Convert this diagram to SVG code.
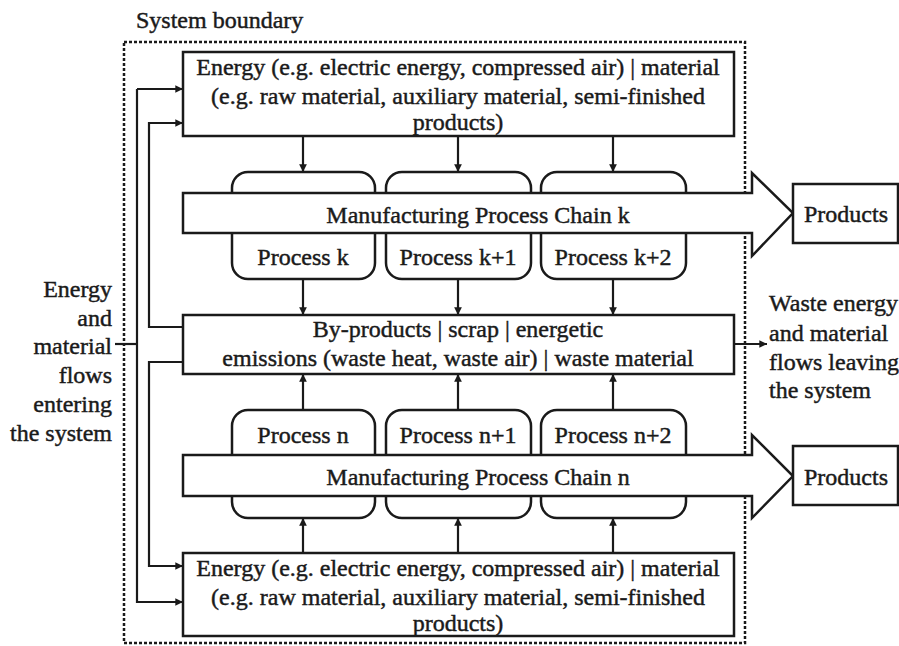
<svg xmlns="http://www.w3.org/2000/svg" width="899" height="646" viewBox="0 0 899 646">
<style>
text{font-family:"Liberation Serif","Times New Roman",serif;font-size:24px;fill:#1a1a1a;stroke:#1a1a1a;stroke-width:0.45}
.c{text-anchor:middle}
.r{text-anchor:end}
.box{fill:#fff;stroke:#1a1a1a;stroke-width:2.5}
.proc{fill:#fff;stroke:#1a1a1a;stroke-width:2.5}
.ln{fill:none;stroke:#1a1a1a;stroke-width:2.2}
.bnd{fill:none;stroke:#1a1a1a;stroke-width:2.5;stroke-dasharray:3 2}
</style>
<defs>
<marker id="ah" viewBox="0 0 10 10" refX="10" refY="5" markerWidth="3.5" markerHeight="3.5" orient="auto" markerUnits="strokeWidth">
<path d="M0,0 L10,5 L0,10 z" fill="#1a1a1a"/>
</marker>
</defs>
<rect fill="#fff" width="899" height="646"/>
<text x="136" y="28">System boundary</text>
<rect class="bnd" x="124" y="42" width="621" height="601"/>

<g id="connectors">
<line class="ln" x1="303" y1="136" x2="303" y2="172" marker-end="url(#ah)"/>
<line class="ln" x1="458" y1="136" x2="458" y2="172" marker-end="url(#ah)"/>
<line class="ln" x1="613" y1="136" x2="613" y2="172" marker-end="url(#ah)"/>
<line class="ln" x1="303" y1="279" x2="303" y2="315" marker-end="url(#ah)"/>
<line class="ln" x1="458" y1="279" x2="458" y2="315" marker-end="url(#ah)"/>
<line class="ln" x1="613" y1="279" x2="613" y2="315" marker-end="url(#ah)"/>
<line class="ln" x1="303" y1="410" x2="303" y2="374" marker-end="url(#ah)"/>
<line class="ln" x1="458" y1="410" x2="458" y2="374" marker-end="url(#ah)"/>
<line class="ln" x1="613" y1="410" x2="613" y2="374" marker-end="url(#ah)"/>
<line class="ln" x1="303" y1="553" x2="303" y2="518" marker-end="url(#ah)"/>
<line class="ln" x1="458" y1="553" x2="458" y2="518" marker-end="url(#ah)"/>
<line class="ln" x1="613" y1="553" x2="613" y2="518" marker-end="url(#ah)"/>
<path class="ln" d="M137,89 H183" marker-end="url(#ah)"/>
<path class="ln" d="M137,89 V602 H183" marker-end="url(#ah)"/>
<path class="ln" d="M115,344 H137"/>
<path class="ln" d="M183,327 H149 V123 H183" marker-end="url(#ah)"/>
<path class="ln" d="M183,362 H149 V566 H183" marker-end="url(#ah)"/>
<path class="ln" d="M733,344 H767" marker-end="url(#ah)"/>
</g>

<g id="energy-top">
<rect class="box" x="183" y="52" width="551" height="84"/>
<text class="c" x="458" y="75">Energy (e.g. electric energy, compressed air) | material</text>
<text class="c" x="458" y="104">(e.g. raw material, auxiliary material, semi-finished</text>
<text class="c" x="458" y="130">products)</text>
</g>

<g id="process-k"><rect class="proc" x="232" y="172" width="143" height="107" rx="16"/><text class="c" x="303" y="265">Process k</text></g>
<g id="process-k1"><rect class="proc" x="386" y="172" width="145" height="107" rx="16"/><text class="c" x="458" y="265">Process k+1</text></g>
<g id="process-k2"><rect class="proc" x="541" y="172" width="145" height="107" rx="16"/><text class="c" x="613" y="265">Process k+2</text></g>

<g id="chain-k">
<path class="box" d="M183,193 H752 V173 L793,213 L752,256 V233 H183 Z"/>
<text class="c" x="478" y="223">Manufacturing Process Chain k</text>
</g>
<g id="products-k">
<rect class="box" x="793" y="184" width="105" height="59"/>
<text class="c" x="846" y="222">Products</text>
</g>

<g id="byproducts">
<rect class="box" x="183" y="315" width="551" height="59"/>
<text class="c" x="458" y="337">By-products | scrap | energetic</text>
<text class="c" x="458" y="366">emissions (waste heat, waste air) | waste material</text>
</g>

<g id="process-n"><rect class="proc" x="232" y="410" width="143" height="108" rx="16"/><text class="c" x="303" y="443">Process n</text></g>
<g id="process-n1"><rect class="proc" x="386" y="410" width="145" height="108" rx="16"/><text class="c" x="458" y="443">Process n+1</text></g>
<g id="process-n2"><rect class="proc" x="541" y="410" width="145" height="108" rx="16"/><text class="c" x="613" y="443">Process n+2</text></g>

<g id="chain-n">
<path class="box" d="M183,455 H752 V435 L793,476 L752,518 V496 H183 Z"/>
<text class="c" x="478" y="485">Manufacturing Process Chain n</text>
</g>
<g id="products-n">
<rect class="box" x="793" y="446" width="105" height="59"/>
<text class="c" x="846" y="485">Products</text>
</g>

<g id="energy-bottom">
<rect class="box" x="183" y="553" width="551" height="83"/>
<text class="c" x="458" y="576">Energy (e.g. electric energy, compressed air) | material</text>
<text class="c" x="458" y="605">(e.g. raw material, auxiliary material, semi-finished</text>
<text class="c" x="458" y="631">products)</text>
</g>

<g id="label-in">
<text class="r" x="112" y="297">Energy</text>
<text class="r" x="112" y="326">and</text>
<text class="r" x="112" y="354">material</text>
<text class="r" x="112" y="383">flows</text>
<text class="r" x="112" y="412">entering</text>
<text class="r" x="112" y="441">the system</text>
</g>
<g id="label-out">
<text x="769" y="311">Waste energy</text>
<text x="769" y="341">and material</text>
<text x="769" y="370">flows leaving</text>
<text x="769" y="398">the system</text>
</g>
</svg>
